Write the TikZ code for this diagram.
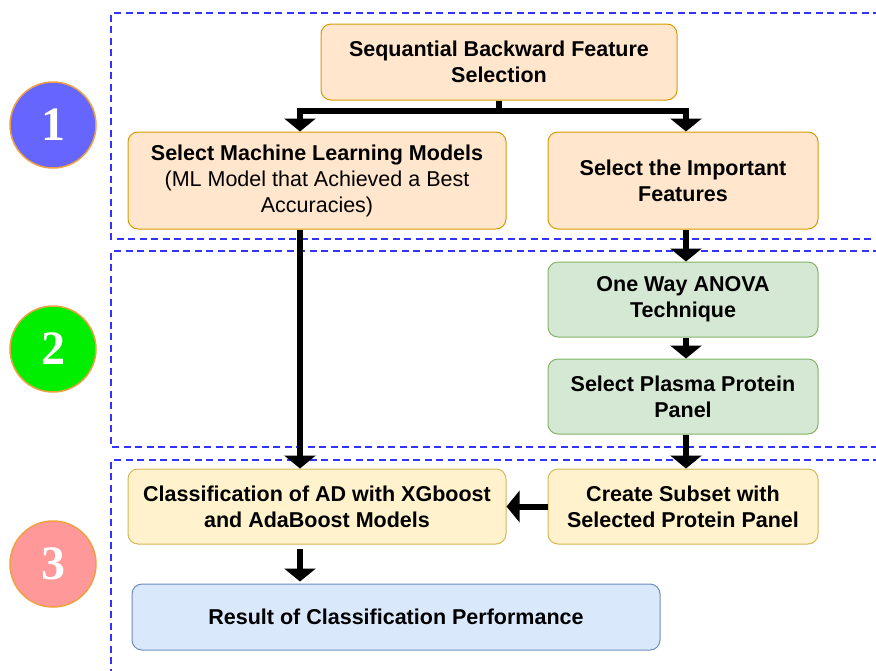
\documentclass[tikz,border=0pt]{standalone}
\usepackage{fontspec}
\setmainfont{Liberation Sans}
\newfontfamily\numfont{Liberation Serif}
\usetikzlibrary{arrows.meta,calc}
\definecolor{ofill}{HTML}{FFE6CC}\definecolor{odraw}{HTML}{D79B00}
\definecolor{gfill}{HTML}{D5E8D4}\definecolor{gdraw}{HTML}{82B366}
\definecolor{yfill}{HTML}{FFF2CC}\definecolor{ydraw}{HTML}{D6B656}
\definecolor{bfill}{HTML}{DAE8FC}\definecolor{bdraw}{HTML}{6C8EBF}
\definecolor{dashblue}{HTML}{3333FF}
\definecolor{c1}{HTML}{6666FF}\definecolor{c2}{HTML}{00EE00}\definecolor{c3}{HTML}{FF9999}
\definecolor{cring}{HTML}{F0A040}
\begin{document}
\begin{tikzpicture}[x=1pt,y=-1pt,
  box/.style={draw,line width=1pt,rounded corners=10pt,align=center,font=\fontsize{21.5}{26}\selectfont\bfseries,inner sep=0pt},
  obox/.style={box,fill=ofill,draw=odraw},
  gbox/.style={box,fill=gfill,draw=gdraw},
  ybox/.style={box,fill=yfill,draw=ydraw},
  bbox/.style={box,fill=bfill,draw=bdraw},
  region/.style={draw=dashblue,line width=2pt,dash pattern=on 7pt off 4.5pt},
  badge/.style={circle,line width=1.5pt,draw=cring,minimum size=86pt,inner sep=0pt,text=white,font=\numfont\fontsize{48}{48}\selectfont\bfseries},
  conn/.style={line width=6pt,line join=miter},
  arr/.style={conn,-{Triangle[width=31pt,length=13pt]}}]
\useasboundingbox (0,0) rectangle (876,670);
% regions
\draw[region] (880,13) -- (111,13) -- (111,239) -- (880,239);
\draw[region] (880,251) -- (111,251) -- (111,447) -- (880,447);
\draw[region] (880,460) -- (111,460) -- (111,675);
% badges
\node[badge,fill=c1] (b1) at (53,125) {1};
\node[badge,fill=c2] (b2) at (53,349) {2};
\node[badge,fill=c3] (b3) at (53,564) {3};
% boxes
\node[obox,minimum width=356pt,minimum height=76pt] (sbfs) at (499,62) {Sequantial Backward Feature\\Selection};
\node[obox,minimum width=378pt,minimum height=97pt] (ml) at (317,180.5) {Select Machine Learning Models\\{\mdseries (ML Model that Achieved a Best}\\{\mdseries Accuracies)}};
\node[obox,minimum width=270pt,minimum height=97pt] (imp) at (683,180.5) {Select the Important\\Features};
\node[gbox,minimum width=270pt,minimum height=75pt] (anova) at (683,299.5) {One Way ANOVA\\Technique};
\node[gbox,minimum width=270pt,minimum height=75pt] (plasma) at (683,396.5) {Select Plasma Protein\\Panel};
\node[ybox,minimum width=270pt,minimum height=75pt] (subset) at (683,506.5) {Create Subset with\\Selected Protein Panel};
\node[ybox,minimum width=378pt,minimum height=75pt] (cls) at (317,506.5) {Classification of AD with XGboost\\and AdaBoost Models};
\node[bbox,minimum width=528pt,minimum height=66pt] (res) at (396,617) {Result of Classification Performance};
% connectors
\coordinate (j) at ($(sbfs.south)+(0,10)$);
\coordinate (lx) at (300,0);
\coordinate (rx) at (686,0);
\draw[conn] (sbfs.south) -- (j);
\draw[arr] (j) -| (lx |- ml.north);
\draw[arr] (j) -| (rx |- imp.north);
\draw[arr] (lx |- ml.south) -- (lx |- cls.north);
\draw[arr] (rx |- imp.south) -- (rx |- anova.north);
\draw[arr] (rx |- anova.south) -- (rx |- plasma.north);
\draw[arr] (rx |- plasma.south) -- (rx |- subset.north);
\draw[arr] (subset.west) -- (cls.east);
\draw[arr,shorten <=4pt,shorten >=2pt] (lx |- cls.south) -- (lx |- res.north);
\end{tikzpicture}
\end{document}
